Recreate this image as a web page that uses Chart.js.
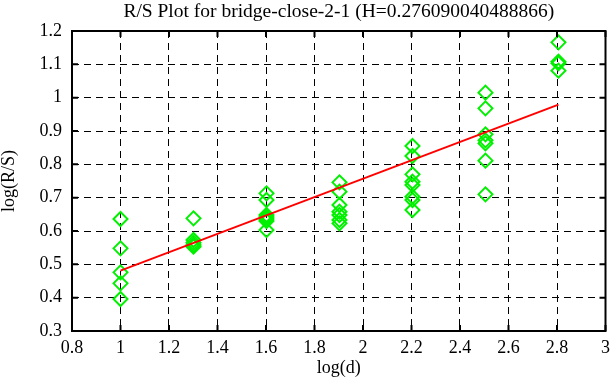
<!DOCTYPE html>
<html>
<head>
<meta charset="utf-8">
<script src="https://cdn.jsdelivr.net/npm/chart.js@4"></script>
<style>
  html, body { margin: 0; padding: 0; background: #fff; }
  #wrap { width: 616px; height: 387px; }
</style>
</head>
<body>
<div id="wrap"><canvas id="c" width="616" height="387"></canvas></div>
<script>
// log10 of the window sizes d
const logD = [1.0, 1.301, 1.602, 1.903, 2.204, 2.505, 2.806];
// log(R/S) values per window size
const rs10  = [0.636, 0.548, 0.476, 0.443, 0.396];
const rs20  = [0.638, 0.573, 0.565, 0.558, 0.553];
const rs40  = [0.713, 0.693, 0.648, 0.642, 0.636, 0.630, 0.603];
const rs80  = [0.746, 0.718, 0.678, 0.658, 0.648, 0.633, 0.623];
const rs160 = [0.855, 0.825, 0.770, 0.748, 0.738, 0.703, 0.693, 0.663];
const rs320 = [1.015, 0.968, 0.890, 0.872, 0.863, 0.811, 0.710];
const rs640 = [1.166, 1.108, 1.103, 1.081];
// fitted line end points
const fitX = [1.0, 2.806];
const fitY = [0.481, 0.979];
// axis ticks
const xMin = 0.8, xMax = 3.0, xStep = 0.2;
const yMin = 0.3, yMax = 1.2, yStep = 0.1;
const titleText = 'R/S Plot for bridge-close-2-1 (H=0.276090040488866)';

const groups = [rs10, rs20, rs40, rs80, rs160, rs320, rs640];
const points = [];
groups.forEach((g, i) => g.forEach(v => points.push({x: logD[i], y: v})));
const fitLine = fitX.map((x, i) => ({x: x, y: fitY[i]}));

Chart.defaults.font.family = "'Liberation Serif', 'Times New Roman', serif";
Chart.defaults.color = '#000';

const frame = {
  id: 'frame',
  afterDraw(chart) {
    const {ctx, chartArea: a} = chart;
    const xs = chart.scales.x, ys = chart.scales.y;
    ctx.save();
    ctx.strokeStyle = '#000';
    ctx.lineWidth = 2;
    ctx.setLineDash([]);
    ctx.strokeRect(a.left, a.top, a.right - a.left, a.bottom - a.top);
    const tl = 6;
    ctx.beginPath();
    xs.ticks.forEach(t => {
      const px = xs.getPixelForValue(t.value);
      ctx.moveTo(px, a.bottom); ctx.lineTo(px, a.bottom - tl);
      ctx.moveTo(px, a.top); ctx.lineTo(px, a.top + tl);
    });
    ys.ticks.forEach(t => {
      const py = ys.getPixelForValue(t.value);
      ctx.moveTo(a.left, py); ctx.lineTo(a.left + tl, py);
      ctx.moveTo(a.right, py); ctx.lineTo(a.right - tl, py);
    });
    ctx.stroke();
    ctx.restore();
  }
};

new Chart(document.getElementById('c'), {
  type: 'scatter',
  data: {
    datasets: [
      {
        label: 'R/S',
        data: points,
        showLine: false,
        pointStyle: 'rectRot',
        pointRadius: 7,
        pointHoverRadius: 7,
        pointBorderWidth: 2,
        borderColor: '#00f000',
        backgroundColor: 'rgba(0,0,0,0)',
        order: 2
      },
      {
        label: 'fit',
        data: fitLine,
        showLine: true,
        pointRadius: 0,
        borderColor: '#ff0000',
        borderWidth: 2,
        backgroundColor: '#ff0000',
        order: 1
      }
    ]
  },
  options: {
    responsive: false,
    animation: false,
    layout: { padding: { left: 0, right: 6, top: 0, bottom: 0 } },
    plugins: {
      legend: { display: false },
      tooltip: { enabled: false },
      title: { display: false }
    },
    scales: {
      x: {
        type: 'linear',
        position: 'bottom',
        min: xMin, max: xMax,
        afterFit(s) { s.height = 56; },
        ticks: {
          stepSize: xStep,
          padding: 6,
          font: { size: 18 },
          color: '#000',
          maxRotation: 0,
          callback: v => +v.toFixed(1)
        },
        grid: { color: '#000', lineWidth: 1, drawTicks: false, borderDash: [7, 5] },
        border: { display: false, dash: [7, 5] },
        title: { display: true, text: 'log(d)', font: { size: 18 }, color: '#000', padding: { top: 0, bottom: 8 } }
      },
      x2: {
        type: 'linear',
        position: 'top',
        min: xMin, max: xMax,
        afterFit(s) { s.height = 31; },
        ticks: { display: false },
        grid: { display: false, drawTicks: false },
        border: { display: false },
        title: { display: true, text: titleText, font: { size: 19.5 }, color: '#000', padding: { top: 0, bottom: 0 } }
      },
      y: {
        type: 'linear',
        min: yMin, max: yMax,
        afterFit(s) { s.width = 72; },
        ticks: {
          stepSize: yStep,
          padding: 10,
          font: { size: 18 },
          color: '#000',
          callback: v => +v.toFixed(1)
        },
        grid: { color: '#000', lineWidth: 1, drawTicks: false, borderDash: [7, 5] },
        border: { display: false, dash: [7, 5] },
        title: { display: true, text: 'log(R/S)', font: { size: 18, lineHeight: 1 }, color: '#000', padding: { top: 0, bottom: 0 } }
      }
    }
  },
  plugins: [frame]
});
</script>
</body>
</html>
